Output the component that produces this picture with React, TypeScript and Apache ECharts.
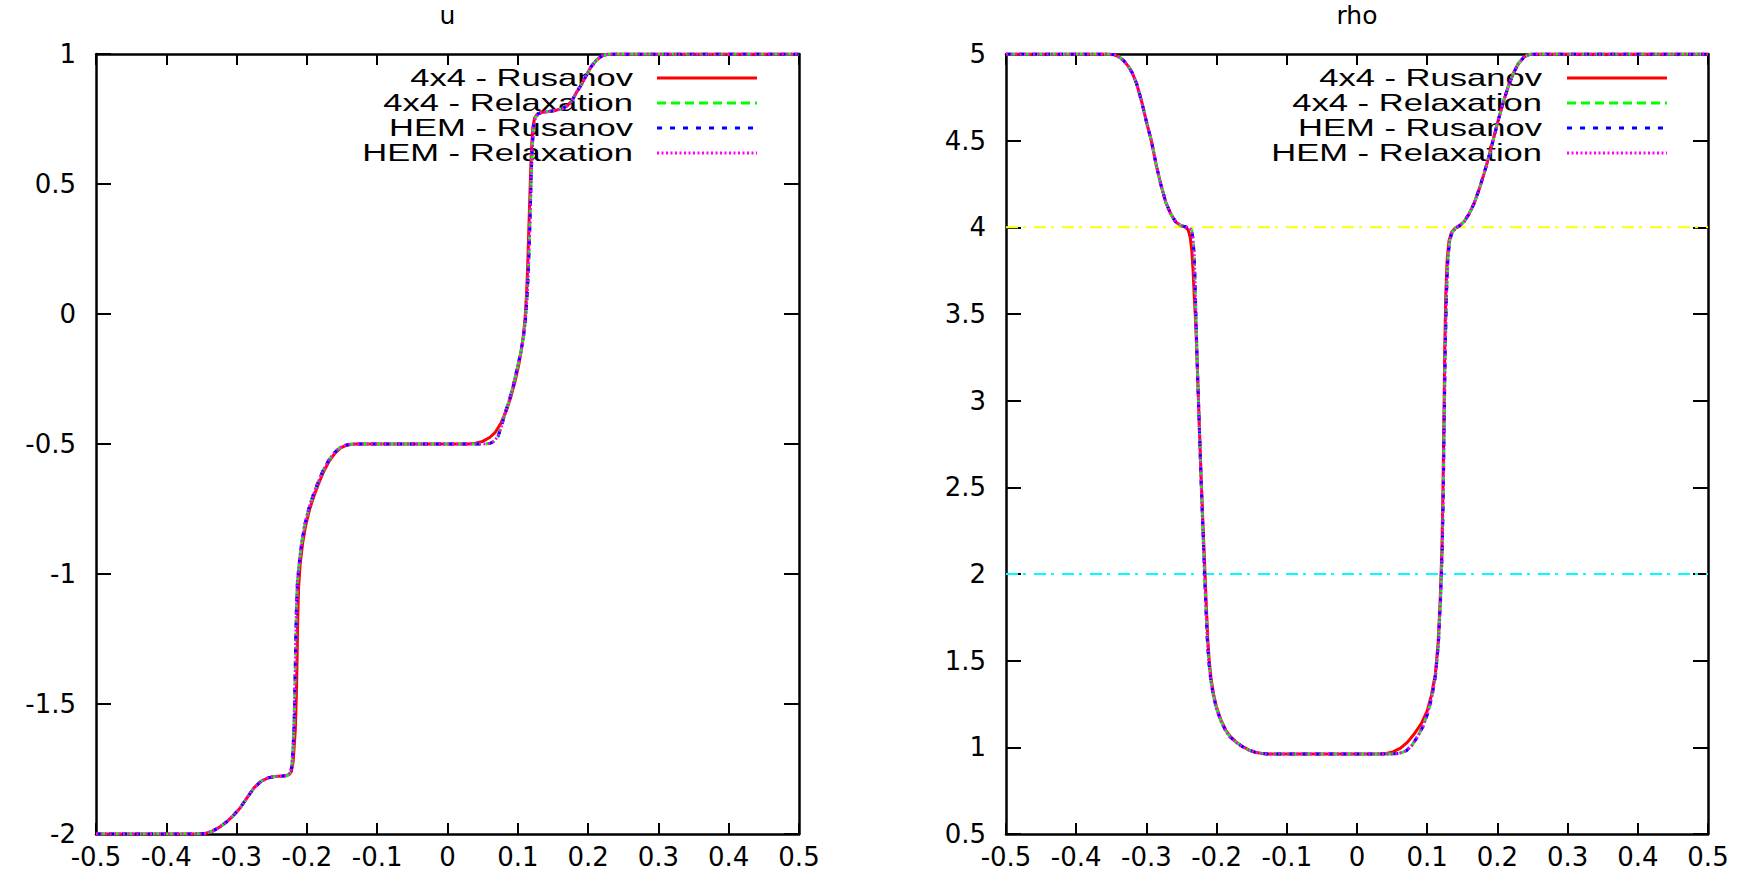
import React, { useEffect, useRef } from "react";
import * as echarts from "echarts";

// ---------- data ----------
const seriesNames = ["4x4 - Rusanov", "4x4 - Relaxation", "HEM - Rusanov", "HEM - Relaxation"];
const panelTitles = ["u", "rho"];
const seriesColors = ["#ff0000", "#00ff00", "#0000ff", "#ff00ff"];

// u panel — 4x4 Rusanov
const uX_4x4Rus = [
  -0.5, -0.36, -0.345, -0.335, -0.325, -0.315, -0.305, -0.295, -0.285, -0.275, -0.265, -0.255, -0.245, -0.235, -0.228,
  -0.2245, -0.222, -0.2195, -0.2165, -0.2148, -0.2138, -0.213, -0.2118, -0.2095, -0.206, -0.2015, -0.196, -0.19, -0.183,
  -0.176, -0.168, -0.16, -0.152, -0.144, -0.136, -0.128, 0.03, 0.04, 0.05, 0.06, 0.068, 0.076, 0.084, 0.09, 0.096, 0.101,
  0.105, 0.108, 0.1105, 0.1125, 0.114, 0.1155, 0.117, 0.1185, 0.12, 0.1215, 0.124, 0.128, 0.135, 0.145, 0.155, 0.163,
  0.17, 0.177, 0.184, 0.19, 0.197, 0.204, 0.212, 0.22, 0.228, 0.236, 0.5,
];
const u_4x4Rus = [
  -2, -2, -1.998, -1.99, -1.975, -1.955, -1.93, -1.9, -1.86, -1.822, -1.797, -1.784, -1.779, -1.777, -1.775,
  -1.77, -1.76, -1.72, -1.6, -1.45, -1.3, -1.17, -1.05, -0.96, -0.88, -0.81, -0.75, -0.7, -0.65,
  -0.605, -0.565, -0.535, -0.515, -0.505, -0.501, -0.5, -0.5, -0.497, -0.49, -0.475, -0.455, -0.42, -0.37, -0.32, -0.26, -0.2,
  -0.14, -0.08, -0.01, 0.08, 0.18, 0.31, 0.44, 0.57, 0.66, 0.72, 0.755, 0.77, 0.776, 0.779, 0.784, 0.79,
  0.8, 0.82, 0.855, 0.88, 0.915, 0.95, 0.977, 0.993, 0.999, 1, 1,
];
// u panel — relaxation / HEM schemes (drawn on top, nearly identical to each other)
const uX_other = [
  -0.5, -0.36, -0.345, -0.335, -0.325, -0.315, -0.305, -0.295, -0.285, -0.275, -0.265, -0.255, -0.245, -0.235, -0.228,
  -0.2235, -0.2215, -0.2195, -0.218, -0.2168, -0.2158, -0.2148, -0.2135, -0.211, -0.2075, -0.203, -0.1975, -0.1915, -0.1845,
  -0.1775, -0.1695, -0.1615, -0.1535, -0.1455, -0.1375, -0.1295, 0.05, 0.06, 0.066, 0.072, 0.077, 0.082, 0.088, 0.094, 0.099,
  0.104, 0.108, 0.111, 0.1135, 0.1152, 0.1168, 0.1182, 0.1196, 0.121, 0.1225, 0.125, 0.129, 0.135, 0.145, 0.155, 0.163,
  0.17, 0.177, 0.184, 0.19, 0.197, 0.204, 0.212, 0.22, 0.228, 0.236, 0.5,
];
const u_4x4Relax = [
  -2, -2, -1.998, -1.99, -1.975, -1.955, -1.93, -1.9, -1.86, -1.822, -1.797, -1.784, -1.779, -1.777, -1.775,
  -1.765, -1.74, -1.66, -1.55, -1.4, -1.25, -1.12, -1.03, -0.96, -0.88, -0.81, -0.75, -0.7, -0.65,
  -0.605, -0.565, -0.535, -0.515, -0.505, -0.501, -0.5, -0.5, -0.498, -0.49, -0.47, -0.43, -0.38, -0.33, -0.27, -0.21,
  -0.15, -0.09, -0.02, 0.08, 0.18, 0.31, 0.44, 0.57, 0.66, 0.72, 0.755, 0.77, 0.776, 0.779, 0.784, 0.79,
  0.8, 0.82, 0.855, 0.88, 0.915, 0.95, 0.977, 0.993, 0.999, 1, 1,
];
const u_HEMRus = u_4x4Relax;
const u_HEMRelax = u_4x4Relax;

// rho panel — 4x4 Rusanov
const rhoX_4x4Rus = [
  -0.5, -0.355, -0.345, -0.338, -0.332, -0.326, -0.32, -0.314, -0.307, -0.3, -0.293, -0.286, -0.279, -0.272, -0.265, -0.258,
  -0.251, -0.245, -0.2405, -0.2375, -0.2352, -0.2335, -0.2318, -0.2298, -0.2275, -0.225, -0.222, -0.219, -0.2165, -0.2145,
  -0.2125, -0.2105, -0.208, -0.2045, -0.2, -0.194, -0.187, -0.18, -0.172, -0.163, -0.154, -0.145, -0.136, -0.127, 0.03, 0.042,
  0.052, 0.062, 0.072, 0.082, 0.092, 0.1, 0.106, 0.1115, 0.1155, 0.1185, 0.121, 0.1225, 0.1238, 0.125, 0.1265, 0.1285, 0.131,
  0.1345, 0.1395, 0.146, 0.153, 0.16, 0.167, 0.174, 0.181, 0.188, 0.195, 0.202, 0.209, 0.216, 0.223, 0.23, 0.238, 0.246, 0.255,
  0.5,
];
const rho_4x4Rus = [
  5, 5, 4.995, 4.98, 4.96, 4.93, 4.89, 4.83, 4.73, 4.61, 4.5, 4.36, 4.24, 4.14, 4.075, 4.03,
  4.01, 4.003, 3.985, 3.94, 3.86, 3.75, 3.6, 3.45, 3.2, 2.9, 2.55, 2.25, 2.0, 1.8,
  1.62, 1.5, 1.4, 1.31, 1.23, 1.16, 1.1, 1.06, 1.03, 1.005, 0.985, 0.972, 0.965, 0.962, 0.962, 0.965,
  0.975, 0.995, 1.03, 1.08, 1.14, 1.21, 1.3, 1.42, 1.6, 1.85, 2.15, 2.5, 2.9, 3.3, 3.62, 3.82, 3.92,
  3.97, 3.995, 4.01, 4.035, 4.08, 4.14, 4.22, 4.31, 4.41, 4.52, 4.63, 4.73, 4.82, 4.89, 4.945, 4.983, 4.998, 5,
  5,
];
// rho panel — relaxation / HEM schemes
const rhoX_other = [
  -0.5, -0.355, -0.345, -0.338, -0.332, -0.326, -0.32, -0.314, -0.307, -0.3, -0.293, -0.286, -0.279, -0.272, -0.265, -0.258,
  -0.251, -0.245, -0.2385, -0.2355, -0.2335, -0.232, -0.2308, -0.2295, -0.2275, -0.225, -0.2222, -0.2195, -0.2172, -0.2152,
  -0.2132, -0.2112, -0.2087, -0.2052, -0.2007, -0.1947, -0.1877, -0.1807, -0.1727, -0.1637, -0.1547, -0.1457, -0.1367, -0.1277,
  0.05, 0.06, 0.07, 0.078, 0.086, 0.094, 0.101, 0.107, 0.112, 0.116, 0.119, 0.1215, 0.123, 0.1243, 0.1257, 0.1275, 0.1295,
  0.132, 0.1355, 0.1405, 0.1465, 0.153, 0.16, 0.167, 0.174, 0.181, 0.188, 0.195, 0.202, 0.209, 0.216, 0.223, 0.23, 0.238, 0.246,
  0.255, 0.5,
];
const rho_4x4Relax = [
  5, 5, 4.995, 4.98, 4.96, 4.93, 4.89, 4.83, 4.73, 4.61, 4.5, 4.36, 4.24, 4.14, 4.075, 4.03,
  4.01, 4.004, 3.995, 3.985, 3.93, 3.84, 3.7, 3.5, 3.2, 2.9, 2.55, 2.25, 2.0, 1.8,
  1.62, 1.5, 1.4, 1.31, 1.23, 1.16, 1.1, 1.06, 1.03, 1.005, 0.985, 0.972, 0.965, 0.962,
  0.962, 0.965, 0.98, 1.01, 1.06, 1.12, 1.2, 1.3, 1.42, 1.6, 1.85, 2.15, 2.5, 2.9, 3.3, 3.62, 3.82,
  3.92, 3.97, 3.995, 4.01, 4.035, 4.08, 4.14, 4.22, 4.31, 4.41, 4.52, 4.63, 4.73, 4.82, 4.89, 4.945, 4.983, 4.998,
  5, 5,
];
const rho_HEMRus = rho_4x4Relax;
const rho_HEMRelax = rho_4x4Relax;

// dash-dot reference levels on the rho panel
const rhoRefLevels = [4, 2];
const rhoRefColors = ["#ffff00", "#00ffff"];
const xDomain = [-0.5, 0.5];

// ---------- presentation ----------
const FONT = "DejaVu Sans";
const KEY_FONT = "Liberation Sans";
const LABEL_SIZE = 26;
const dashes: (number[] | "solid")[] = ["solid", [9, 5], [5, 8], [2, 2.5]];

const zip = (xs: number[], ys: number[]) => xs.map((x, i) => [x, ys[i]]);
const fmtX = (v: number) => {
  const r = Math.round(v * 10) / 10;
  return r === 0 ? "0" : String(r);
};

const grids = [
  { left: 96, top: 54, width: 703, height: 780 },
  { left: 1006, top: 54, width: 702, height: 780 },
];

function xAxesFor(gridIndex: number) {
  const common = {
    gridIndex,
    type: "value",
    min: -0.5,
    max: 0.5,
    interval: 0.1,
    splitLine: { show: false },
    axisLine: { onZero: false, lineStyle: { color: "#000", width: 2.5 } },
    axisTick: { inside: true, length: 11, lineStyle: { color: "#000", width: 2 } },
  };
  return [
    {
      ...common,
      position: "bottom",
      axisLabel: { margin: 10, color: "#000", fontFamily: FONT, fontSize: LABEL_SIZE, formatter: fmtX },
    },
    { ...common, position: "top", axisLabel: { show: false } },
  ];
}

function yAxesFor(gridIndex: number, min: number, max: number) {
  const common = {
    gridIndex,
    type: "value",
    min,
    max,
    interval: 0.5,
    splitLine: { show: false },
    axisLine: { onZero: false, lineStyle: { color: "#000", width: 2.5 } },
    axisTick: { inside: true, length: 15, lineStyle: { color: "#000", width: 2 } },
  };
  return [
    {
      ...common,
      position: "left",
      axisLabel: { margin: 20, color: "#000", fontFamily: FONT, fontSize: LABEL_SIZE },
    },
    { ...common, position: "right", axisLabel: { show: false } },
  ];
}

function curveSeries(name: string, idx: number, axisIdx: number, data: number[][]) {
  return {
    name,
    type: "line",
    xAxisIndex: axisIdx,
    yAxisIndex: axisIdx,
    data,
    symbol: "none",
    showSymbol: false,
    silent: true,
    z: 3 + idx,
    color: seriesColors[idx],
    lineStyle: { color: seriesColors[idx], width: 3, type: dashes[idx], cap: "butt" },
  };
}

// key (gnuplot style: right-aligned text, sample line to its right)
function keyGraphics(textRight: number, lineLeft: number, lineRight: number, firstRowY: number) {
  const els: any[] = [];
  seriesNames.forEach((n, i) => {
    const y = firstRowY + 25 * i;
    els.push({
      type: "text",
      x: textRight,
      y,
      scaleX: 1.44,
      silent: true,
      style: {
        text: n,
        x: 0,
        y: 0,
        align: "right",
        verticalAlign: "middle",
        fontFamily: KEY_FONT,
        fontSize: 24,
        fill: "#000",
      },
    });
    const d = dashes[i];
    els.push({
      type: "line",
      silent: true,
      shape: { x1: lineLeft, y1: y, x2: lineRight, y2: y },
      style: {
        stroke: seriesColors[i],
        lineWidth: 3,
        lineDash: d === "solid" ? null : d,
        lineCap: "butt",
      },
    });
  });
  return els;
}

export default function App() {
  const ref = useRef<HTMLDivElement>(null);

  useEffect(() => {
    if (!ref.current) return;
    const chart = echarts.init(ref.current, undefined, { renderer: "svg" });

    const uData = [zip(uX_4x4Rus, u_4x4Rus), zip(uX_other, u_4x4Relax), zip(uX_other, u_HEMRus), zip(uX_other, u_HEMRelax)];
    const rhoData = [
      zip(rhoX_4x4Rus, rho_4x4Rus),
      zip(rhoX_other, rho_4x4Relax),
      zip(rhoX_other, rho_HEMRus),
      zip(rhoX_other, rho_HEMRelax),
    ];

    const series: any[] = [];
    rhoRefLevels.forEach((lvl, i) => {
      series.push({
        name: "rho = " + lvl,
        type: "line",
        xAxisIndex: 2,
        yAxisIndex: 2,
        data: [
          [xDomain[0], lvl],
          [xDomain[1], lvl],
        ],
        symbol: "none",
        silent: true,
        z: 2,
        lineStyle: { color: rhoRefColors[i], width: 2, type: [12, 5, 3, 8] },
      });
    });
    seriesNames.forEach((n, i) => series.push(curveSeries(n, i, 0, uData[i])));
    seriesNames.forEach((n, i) => series.push(curveSeries(n, i, 2, rhoData[i])));

    const titleStyle = { fontFamily: FONT, fontSize: 25, fontWeight: "normal", color: "#000" };

    chart.setOption({
      animation: false,
      backgroundColor: "#ffffff",
      title: [
        { text: panelTitles[0], left: 447.5, top: 3, textAlign: "center", padding: 0, textStyle: titleStyle },
        { text: panelTitles[1], left: 1357, top: 3, textAlign: "center", padding: 0, textStyle: titleStyle },
      ],
      grid: grids,
      xAxis: [...xAxesFor(0), ...xAxesFor(1)],
      yAxis: [...yAxesFor(0, -2, 1), ...yAxesFor(1, 0.5, 5)],
      series,
      graphic: [...keyGraphics(633, 657, 757, 78), ...keyGraphics(1542, 1567, 1667, 78)],
    });

    return () => chart.dispose();
  }, []);

  return <div ref={ref} style={{ position: "absolute", left: 0, top: 0, width: 1755, height: 873 }} />;
}
